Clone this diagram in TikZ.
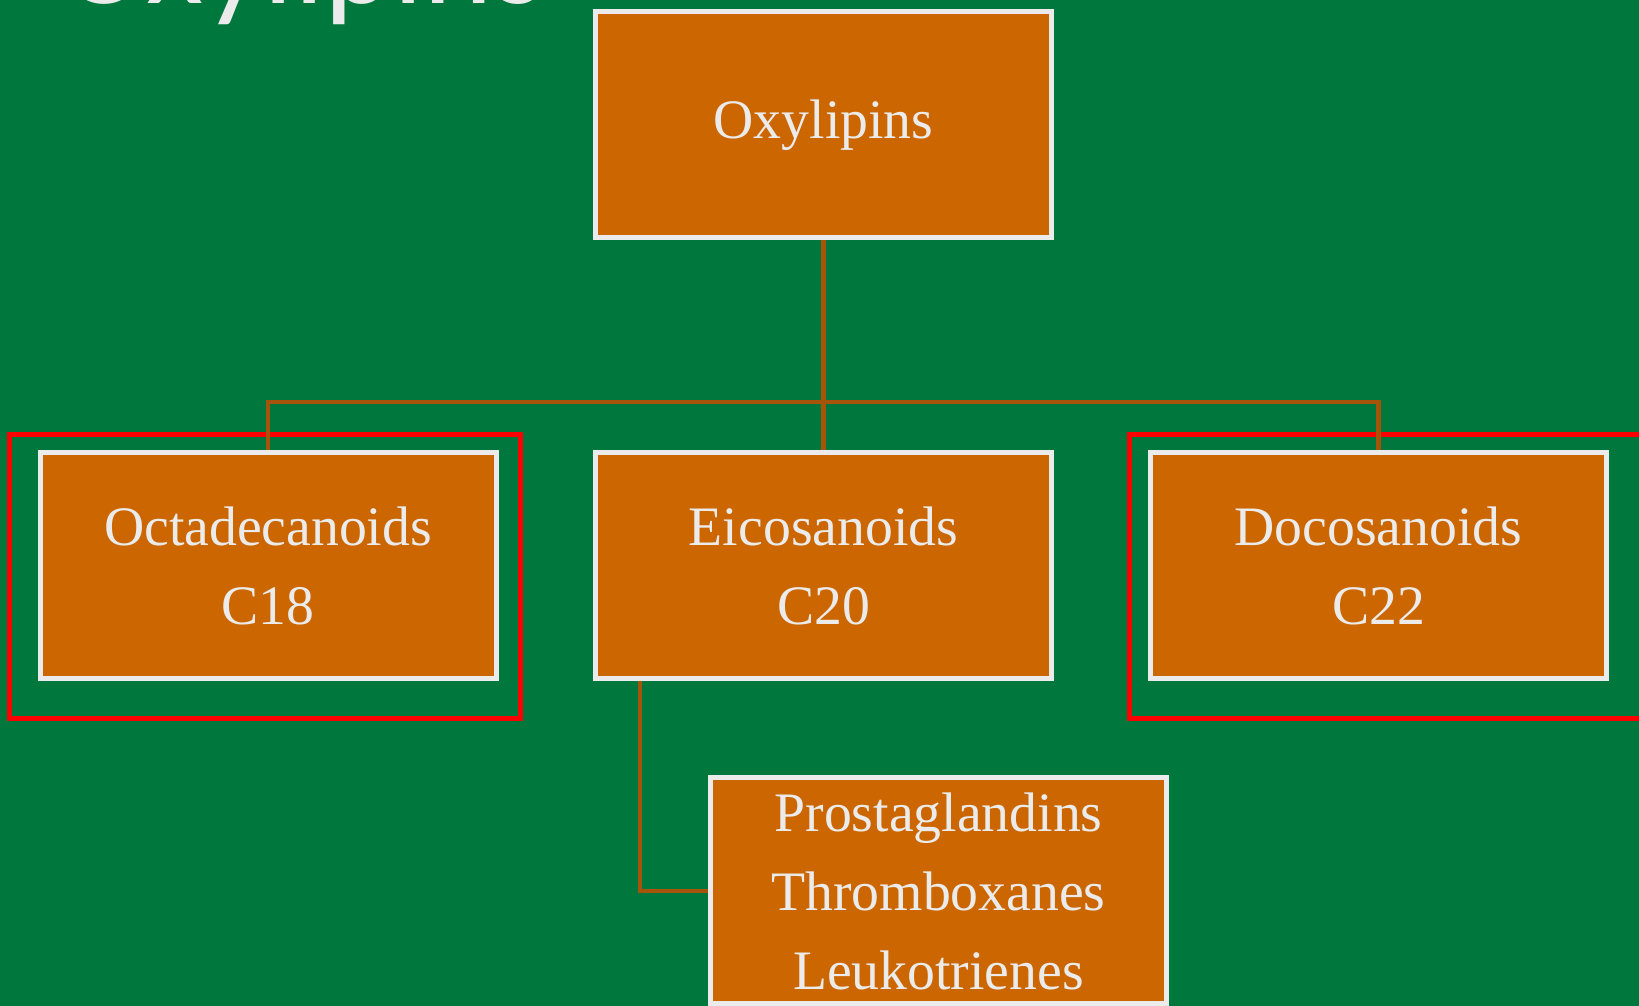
\documentclass[tikz,border=0pt]{standalone}
\usepackage{fontspec}
\setmainfont{Liberation Serif}
\newfontfamily\headfont{Carlito}
\usepackage{tikz}
\usetikzlibrary{positioning,calc}

\definecolor{slidegreen}{RGB}{0,119,61}
\definecolor{boxorange}{RGB}{204,102,0}
\definecolor{linkbrown}{RGB}{165,84,10}
\definecolor{paleborder}{RGB}{235,235,235}

\begin{document}
\begin{tikzpicture}[
    classbox/.style={rectangle, draw=paleborder, fill=boxorange, line width=5pt, minimum width=456pt, minimum height=226pt, inner sep=0pt, align=center, text=paleborder, font=\fontsize{55.7pt}{79pt}\selectfont},
    link/.style={draw=linkbrown, line width=4.5pt},
    highlight/.style={draw=red, line width=5pt}
    ]
        \useasboundingbox[fill=slidegreen] (0,0) rectangle (1639pt,1006pt);

        %Title
        \node[anchor=base west, inner sep=0pt, text=paleborder, font=\headfont\fontsize{132pt}{132pt}\selectfont]
            (heading) at (60pt,1002pt) {Oxylipins};

        %Nodes
        \node[classbox]
            (oxy) at (823.5pt,881pt) {Oxylipins};
        \node[classbox]
            (eico)  [below=209.5pt of oxy]   {Eicosanoids\\C20};
        \node[classbox]
            (octa)  [left=94.5pt of eico]    {Octadecanoids\\C18};
        \node[classbox]
            (doco)  [right=94pt of eico]     {Docosanoids\\C22};
        \node[classbox]
            (prost) [below=94.5pt of eico, xshift=115pt] {Prostaglandins\\Thromboxanes\\Leukotrienes};

        %Frames
        \draw[highlight] ($(octa.north west)+(-27.8pt,15.2pt)$) rectangle ($(octa.south east)+(21.5pt,-37.3pt)$);
        \draw[highlight] ($(doco.north west)+(-18.5pt,15.2pt)$) rectangle ($(doco.south east)+(40pt,-37.3pt)$);

        %Lines
        \coordinate (bus) at ($(oxy.south)!0.771!(eico.north)$);
        \coordinate (drop) at ($(eico.south west)+(47pt,0)$);
        \draw[link] (oxy.south) -- (eico.north);
        \draw[link] (octa.north) |- (bus) -| (doco.north);
        \draw[link] (drop) |- (prost.west);
    \end{tikzpicture}
\end{document}
